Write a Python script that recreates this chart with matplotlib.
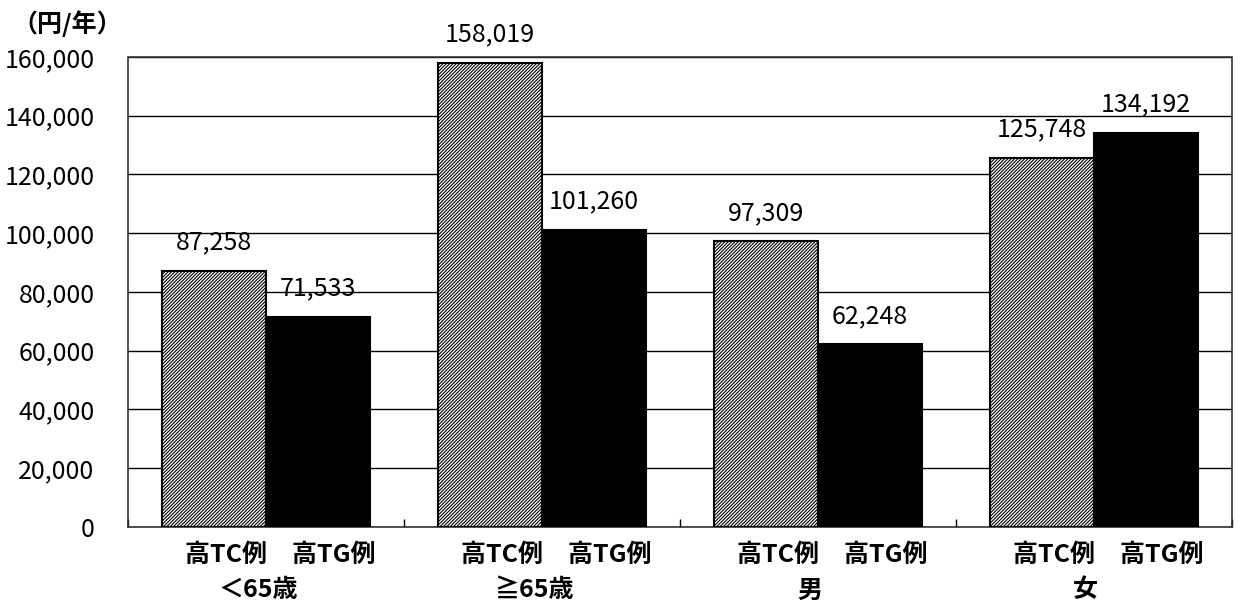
import numpy as np
import matplotlib.pyplot as plt

plt.rcParams['font.family'] = ['Noto Sans CJK JP', 'DejaVu Sans']

# data
groups = ['＜65歳', '≧65歳', '男', '女']
tc_values = [87258, 158019, 97309, 125748]
tg_values = [71533, 101260, 62248, 134192]
series_names = ['高TC例', '高TG例']
yticks = np.arange(0, 160001, 20000)

fig = plt.figure(figsize=(12.44, 6.12), dpi=100)
ax = fig.add_axes([0.1029, 0.1389, 0.8875, 0.768])

x = np.arange(len(groups))
w = 0.377

plt.rcParams['hatch.linewidth'] = 0.8
bars_tc = ax.bar(x - w / 2, tc_values, w, facecolor='white', edgecolor='black',
                 hatch='//////////', linewidth=1.5, zorder=3)
bars_tg = ax.bar(x + w / 2, tg_values, w, facecolor='black', edgecolor='black',
                 linewidth=1.5, zorder=3)

# value labels
for bars in (bars_tc, bars_tg):
    for b in bars:
        ax.annotate(f'{int(b.get_height()):,}',
                    (b.get_x() + b.get_width() / 2, b.get_height()),
                    xytext=(0, 11), textcoords='offset points',
                    ha='center', va='bottom', fontsize=18, clip_on=False)

ax.set_xlim(-0.5, len(groups) - 0.5)
ax.set_ylim(0, 160000)
ax.set_yticks(yticks)
ax.set_yticklabels([f'{v:,}' for v in yticks], fontsize=18)
ax.tick_params(axis='y', length=0, pad=24)

# category labels under the axis
ax.set_xticks(np.arange(len(groups) + 1) - 0.5)
ax.set_xticklabels([])
ax.tick_params(axis='x', direction='in', length=6, width=1)
for i, g in enumerate(groups):
    ax.text(i + 0.05, -0.06, f'{series_names[0]}　{series_names[1]}',
            transform=ax.get_xaxis_transform(), ha='center', va='center',
            fontsize=18, fontweight='bold')
    ax.text(i - 0.03, -0.135, g, transform=ax.get_xaxis_transform(),
            ha='center', va='center', fontsize=18, fontweight='bold')

ax.grid(axis='y', color='black', linewidth=1, zorder=0)
for s in ax.spines.values():
    s.set_linestyle((0, (1, 1)))
    s.set_color('#333333')
    s.set_linewidth(1.2)

fig.text(0.010, 0.962, '（円/年）', ha='left', va='center', fontsize=18,
         fontweight='bold')

fig.savefig('out.png', dpi=100)
